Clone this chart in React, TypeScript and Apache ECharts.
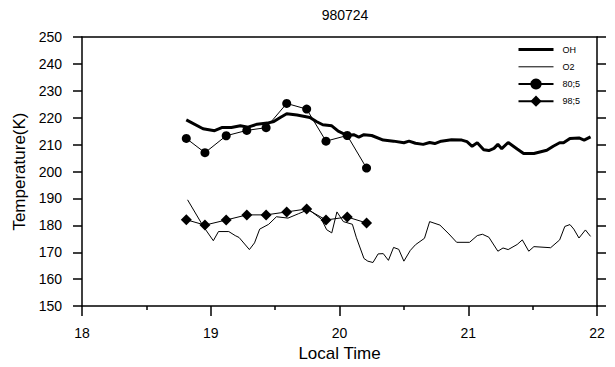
import React, { useEffect, useRef } from "react";
import * as echarts from "echarts";

const ohTime = [18.81, 18.94, 19.03, 19.09, 19.16, 19.23, 19.29, 19.36, 19.44, 19.49, 19.54, 19.59, 19.67, 19.77, 19.82, 19.87, 19.94, 19.99, 20.06, 20.11, 20.15, 20.19, 20.25, 20.34, 20.42, 20.50, 20.54, 20.59, 20.65, 20.70, 20.74, 20.79, 20.87, 20.95, 20.99, 21.03, 21.07, 21.12, 21.16, 21.20, 21.23, 21.26, 21.31, 21.38, 21.43, 21.51, 21.61, 21.66, 21.71, 21.74, 21.79, 21.86, 21.90, 21.95];
const ohTemp = [219.2, 215.9, 215.2, 216.4, 216.4, 217.0, 216.5, 217.6, 218.0, 218.6, 220.1, 221.5, 221.0, 220.1, 218.6, 217.4, 217.0, 215.0, 213.4, 213.7, 212.8, 213.7, 213.4, 211.7, 211.3, 210.7, 211.3, 210.5, 210.1, 210.8, 210.4, 211.3, 211.8, 211.7, 211.1, 209.4, 210.7, 208.1, 207.8, 208.6, 210.1, 208.5, 210.8, 208.4, 206.7, 206.7, 207.9, 209.4, 210.7, 210.7, 212.3, 212.5, 211.7, 212.9];

const o2Time = [18.82, 18.94, 19.02, 19.06, 19.14, 19.19, 19.22, 19.30, 19.34, 19.38, 19.45, 19.51, 19.60, 19.68, 19.76, 19.81, 19.86, 19.90, 19.94, 19.98, 20.03, 20.10, 20.13, 20.19, 20.22, 20.26, 20.30, 20.34, 20.38, 20.42, 20.46, 20.50, 20.55, 20.59, 20.66, 20.70, 20.78, 20.85, 20.91, 21.01, 21.07, 21.11, 21.16, 21.23, 21.27, 21.31, 21.38, 21.42, 21.47, 21.51, 21.64, 21.71, 21.75, 21.79, 21.82, 21.86, 21.91, 21.95];
const o2Temp = [189.5, 179.8, 174.3, 177.7, 177.7, 176.2, 175.5, 171.0, 173.5, 178.6, 180.4, 183.2, 182.7, 184.3, 185.9, 184.1, 182.3, 178.4, 177.2, 185.0, 181.4, 180.4, 175.6, 167.7, 166.7, 166.2, 169.4, 169.5, 167.0, 171.8, 171.1, 166.7, 170.7, 172.8, 175.2, 181.4, 180.1, 176.8, 173.7, 173.7, 176.2, 176.7, 175.6, 170.4, 171.6, 171.0, 172.9, 174.6, 170.4, 172.1, 171.7, 174.6, 179.6, 180.3, 178.6, 175.3, 178.3, 175.9];

const probeTime = [18.81, 18.955, 19.12, 19.28, 19.43, 19.59, 19.745, 19.895, 20.06, 20.21];
const temp80 = [212.3, 207.0, 213.3, 215.3, 216.3, 225.3, 223.2, 211.3, 213.4, 201.3];
const temp98 = [182.1, 180.1, 182.0, 183.9, 183.9, 185.0, 186.1, 182.0, 183.1, 180.9];

const seriesNames = ["OH", "O2", "80;5", "98;5"];
const titleText = "980724";
const xName = "Local Time";
const yName = "Temperature(K)";

const zip = (xs: number[], ys: number[]) => xs.map((x, i) => [x, ys[i]]);

export default function App() {
  const ref = useRef<HTMLDivElement>(null);
  useEffect(() => {
    document.body.style.margin = "0";
    if (!ref.current) return;
    const chart = echarts.init(ref.current, undefined, { renderer: "svg" });
    const font = "Liberation Sans, Arial, sans-serif";
    const hidden = { color: "rgba(0,0,0,0)", opacity: 0, borderWidth: 0 };
    chart.setOption({
      animation: false,
      backgroundColor: "#fff",
      textStyle: { fontFamily: font, color: "#000" },
      title: {
        text: titleText,
        left: 340,
        top: 3,
        textAlign: "center",
        textStyle: { fontSize: 14, fontWeight: "normal", color: "#000", fontFamily: font },
      },
      grid: { left: 82, right: 18, top: 37, bottom: 55, containLabel: false },
      legend: {
        orient: "vertical",
        left: 512,
        top: 39,
        itemWidth: 35,
        itemHeight: 14,
        itemGap: 6,
        data: [
          { name: seriesNames[0], itemStyle: hidden, lineStyle: { width: 3, color: "#000" } },
          { name: seriesNames[1], itemStyle: hidden, lineStyle: { width: 1, color: "#000" } },
          { name: seriesNames[2] },
          { name: seriesNames[3] },
        ],
        textStyle: { fontSize: 9, color: "#000", fontFamily: font, padding: [0, 0, 0, 4] },
      },
      xAxis: [
        {
          type: "value",
          min: 18,
          max: 22,
          interval: 1,
          name: xName,
          nameLocation: "middle",
          nameGap: 33,
          nameTextStyle: { fontSize: 17, color: "#000", fontFamily: font },
          axisLine: { show: true, lineStyle: { color: "#000", width: 1.5 } },
          axisTick: { show: true, length: 10, lineStyle: { color: "#000", width: 1.5 } },
          minorTick: { show: true, splitNumber: 2, length: 4, lineStyle: { color: "#000", width: 1.5 } },
          axisLabel: { fontSize: 14, color: "#000", margin: 20, fontFamily: font },
          splitLine: { show: false },
        },
        {
          type: "value",
          position: "top",
          min: 18,
          max: 22,
          interval: 1,
          axisLine: { show: true, lineStyle: { color: "#000", width: 1.5 } },
          axisTick: { show: false },
          axisLabel: { show: false },
          splitLine: { show: false },
        },
      ],
      yAxis: [
        {
          type: "value",
          min: 150,
          max: 250,
          interval: 10,
          name: yName,
          nameLocation: "middle",
          nameGap: 50,
          nameTextStyle: { fontSize: 17, color: "#000", fontFamily: font },
          axisLine: { show: true, lineStyle: { color: "#000", width: 1.5 } },
          axisTick: { show: true, length: 9, lineStyle: { color: "#000", width: 1.5 } },
          axisLabel: { fontSize: 14, color: "#000", margin: 20, fontFamily: font },
          splitLine: { show: false },
        },
        {
          type: "value",
          position: "right",
          min: 150,
          max: 250,
          interval: 10,
          axisLine: { show: true, lineStyle: { color: "#000", width: 1.5 } },
          axisTick: { show: true, length: 9, lineStyle: { color: "#000", width: 1.5 } },
          axisLabel: { show: false },
          splitLine: { show: false },
        },
      ],
      series: [
        {
          name: seriesNames[0],
          type: "line",
          data: zip(ohTime, ohTemp),
          symbol: "none",
          color: "#000",
          lineStyle: { color: "#000", width: 3 },
        },
        {
          name: seriesNames[1],
          type: "line",
          data: zip(o2Time, o2Temp),
          symbol: "none",
          color: "#000",
          lineStyle: { color: "#000", width: 1 },
        },
        {
          name: seriesNames[2],
          type: "line",
          data: zip(probeTime, temp80),
          symbol: "circle",
          symbolSize: 9,
          color: "#000",
          itemStyle: { color: "#000" },
          lineStyle: { color: "#000", width: 1 },
        },
        {
          name: seriesNames[3],
          type: "line",
          data: zip(probeTime, temp98),
          symbol: "diamond",
          symbolSize: 11,
          color: "#000",
          itemStyle: { color: "#000" },
          lineStyle: { color: "#000", width: 1 },
        },
      ],
    });
    return () => chart.dispose();
  }, []);
  return <div ref={ref} style={{ width: 615, height: 367 }} />;
}
